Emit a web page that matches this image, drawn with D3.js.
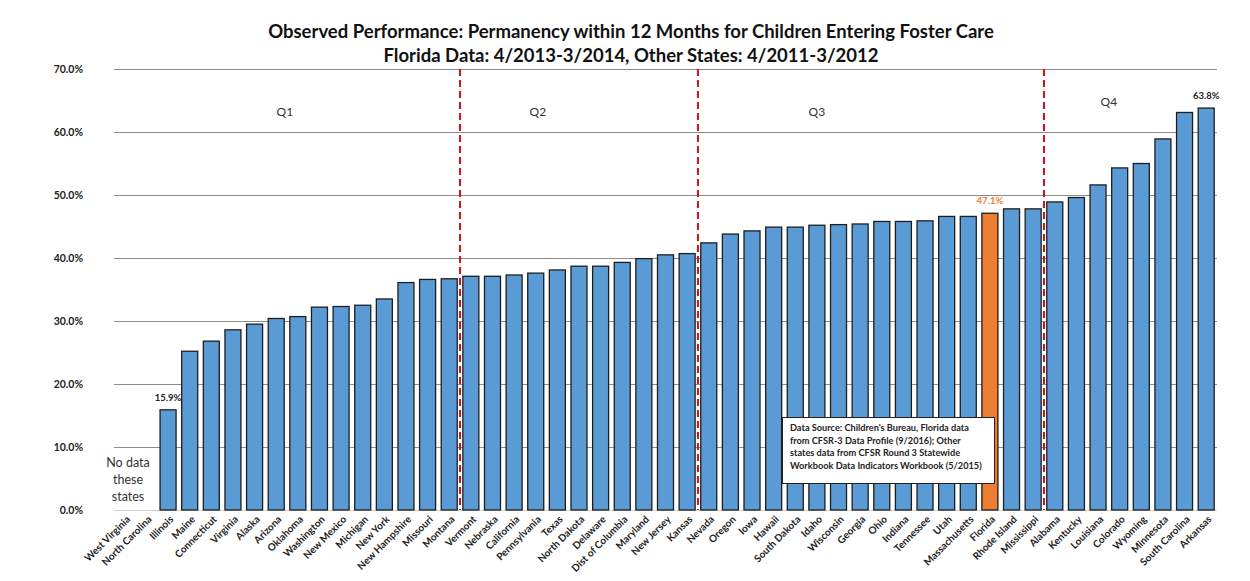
<!DOCTYPE html>
<html><head><meta charset="utf-8">
<script src="https://cdn.jsdelivr.net/npm/d3@7"></script>
<style>body{margin:0;background:#fff}svg{display:block}text{font-family:Lato,"Open Sans",sans-serif}</style>
</head><body><svg id="c" width="1250" height="581"></svg>
<script>
const states = ["West Virginia","North Carolina","Illinois","Maine","Connecticut","Virginia","Alaska","Arizona","Oklahoma","Washington","New Mexico","Michigan","New York","New Hampshire","Missouri","Montana","Vermont","Nebraska","California","Pennsylvania","Texas","North Dakota","Delaware","Dist of Columbia","Maryland","New Jersey","Kansas","Nevada","Oregon","Iowa","Hawaii","South Dakota","Idaho","Wisconsin","Georgia","Ohio","Indiana","Tennessee","Utah","Massachusetts","Florida","Rhode Island","Mississippi","Alabama","Kentucky","Louisiana","Colorado","Wyoming","Minnesota","South Carolina","Arkansas"];
const values = [null,null,15.9,25.2,26.8,28.6,29.5,30.4,30.7,32.2,32.3,32.5,33.5,36.1,36.6,36.7,37.1,37.1,37.3,37.6,38.1,38.7,38.7,39.3,39.9,40.5,40.7,42.4,43.8,44.3,44.9,44.9,45.2,45.3,45.4,45.8,45.8,45.9,46.6,46.6,47.1,47.8,47.8,48.9,49.6,51.6,54.3,55.0,58.9,63.1,63.8];
const yTicks = [0,10,20,30,40,50,60,70];
const quartileBreaks = ["Vermont","Nevada","Alabama"];
const quartileLabels = ["Q1","Q2","Q3","Q4"];
const labeled = ["Illinois","Florida","Arkansas"];
const highlight = "Florida";
const titleLines = ["Observed Performance: Permanency within 12 Months for Children Entering Foster Care","Florida Data: 4/2013-3/2014, Other States: 4/2011-3/2012"];
const noteLines = ["Data Source: Children's Bureau, Florida data","from CFSR-3 Data Profile (9/2016); Other","states data from CFSR Round 3 Statewide","Workbook Data Indicators Workbook (5/2015)"];
const noDataLines = ["No data","these","states"];

const svg = d3.select("#c");
const x0 = 114, x1 = 1217, yTop = 69, yBot = 510;
const x = d3.scaleBand().domain(states).range([x0, x1]).paddingInner(0.26).paddingOuter(0.13);
const y = d3.scaleLinear().domain([0,70]).range([yBot, yTop]);
const step = x.step();

// title
svg.selectAll("text.title").data(titleLines).join("text")
  .attr("x", 631).attr("y", (d,i)=>38+i*24).attr("text-anchor","middle")
  .attr("font-size", 18.5).attr("font-weight","bold").attr("fill","#111").text(d=>d);

// gridlines
const yAxis = d3.axisLeft(y).tickValues(yTicks).tickFormat(d=>d3.format(".1f")(d)+"%").tickSize(-(x1-x0)).tickPadding(31);
const gy = svg.append("g").attr("transform",`translate(${x0},0)`).call(yAxis);
gy.select(".domain").remove();
gy.selectAll(".tick line").attr("stroke", d=>d===0?"#d0d0d0":"#8c8c8c").attr("stroke-width",1);
gy.selectAll(".tick text").attr("font-size",10.5).attr("font-weight","bold").attr("fill","#222");

// bars
svg.append("g").selectAll("rect").data(states.map((s,i)=>({s,v:values[i]})).filter(d=>d.v!=null)).join("rect")
  .attr("x", d=>x(d.s)).attr("width", x.bandwidth())
  .attr("y", d=>y(d.v)).attr("height", d=>y(0)-y(d.v))
  .attr("fill", d=>d.s===highlight?"#ED7D31":"#5B9BD5")
  .attr("stroke","#1e1e1e").attr("stroke-width",1.3);

// value labels
svg.append("g").selectAll("text").data(labeled).join("text")
  .attr("x", s=>x(s)+x.bandwidth()/2).attr("y", s=>y(values[states.indexOf(s)])-9)
  .attr("text-anchor","middle").attr("font-size",9.5).attr("font-weight","bold")
  .attr("fill", s=>s===highlight?"#ED7D31":"#222")
  .text(s=>d3.format(".1f")(values[states.indexOf(s)])+"%");

// quartile dashed lines
svg.append("g").selectAll("line").data(quartileBreaks).join("line")
  .attr("x1", s=>x(s)-step*x.paddingInner()/2).attr("x2", s=>x(s)-step*x.paddingInner()/2)
  .attr("y1", yTop).attr("y2", yBot)
  .attr("stroke","#D0101A").attr("stroke-width",2).attr("stroke-dasharray","7,4");

// quartile labels
const qPos = [[7.9,62.6],[19.6,62.6],[32.5,62.6],[46.0,64.1]];
svg.append("g").selectAll("text").data(quartileLabels).join("text")
  .attr("x",(d,i)=>x0+qPos[i][0]*step).attr("y",(d,i)=>y(qPos[i][1]))
  .attr("text-anchor","middle").attr("font-size",12).attr("fill","#333").text(d=>d);

// x axis labels
const xAxis = d3.axisBottom(x).tickSize(0).tickPadding(0);
const gx = svg.append("g").attr("transform",`translate(0,${yBot})`).call(xAxis);
gx.select(".domain").remove();
gx.selectAll(".tick text").attr("font-size",10).attr("font-weight","bold").attr("fill","#222")
  .attr("text-anchor","end").attr("dy",0)
  .attr("transform","translate(6,10) rotate(-45)");

// no data note
svg.append("g").selectAll("text").data(noDataLines).join("text")
  .attr("x",128).attr("y",(d,i)=>467+i*17).attr("text-anchor","middle")
  .attr("font-size",12.5).attr("fill","#333").text(d=>d);

// source box
const box = svg.append("g");
box.append("rect").attr("x",782.5).attr("y",417.5).attr("width",212).attr("height",66)
  .attr("fill","#fff").attr("stroke","#222").attr("stroke-width",1);
box.selectAll("text").data(noteLines).join("text")
  .attr("x",790).attr("y",(d,i)=>431+i*12.5).attr("font-size",9.2).attr("font-weight","bold")
  .attr("fill","#222").text(d=>d);
</script></body></html>
